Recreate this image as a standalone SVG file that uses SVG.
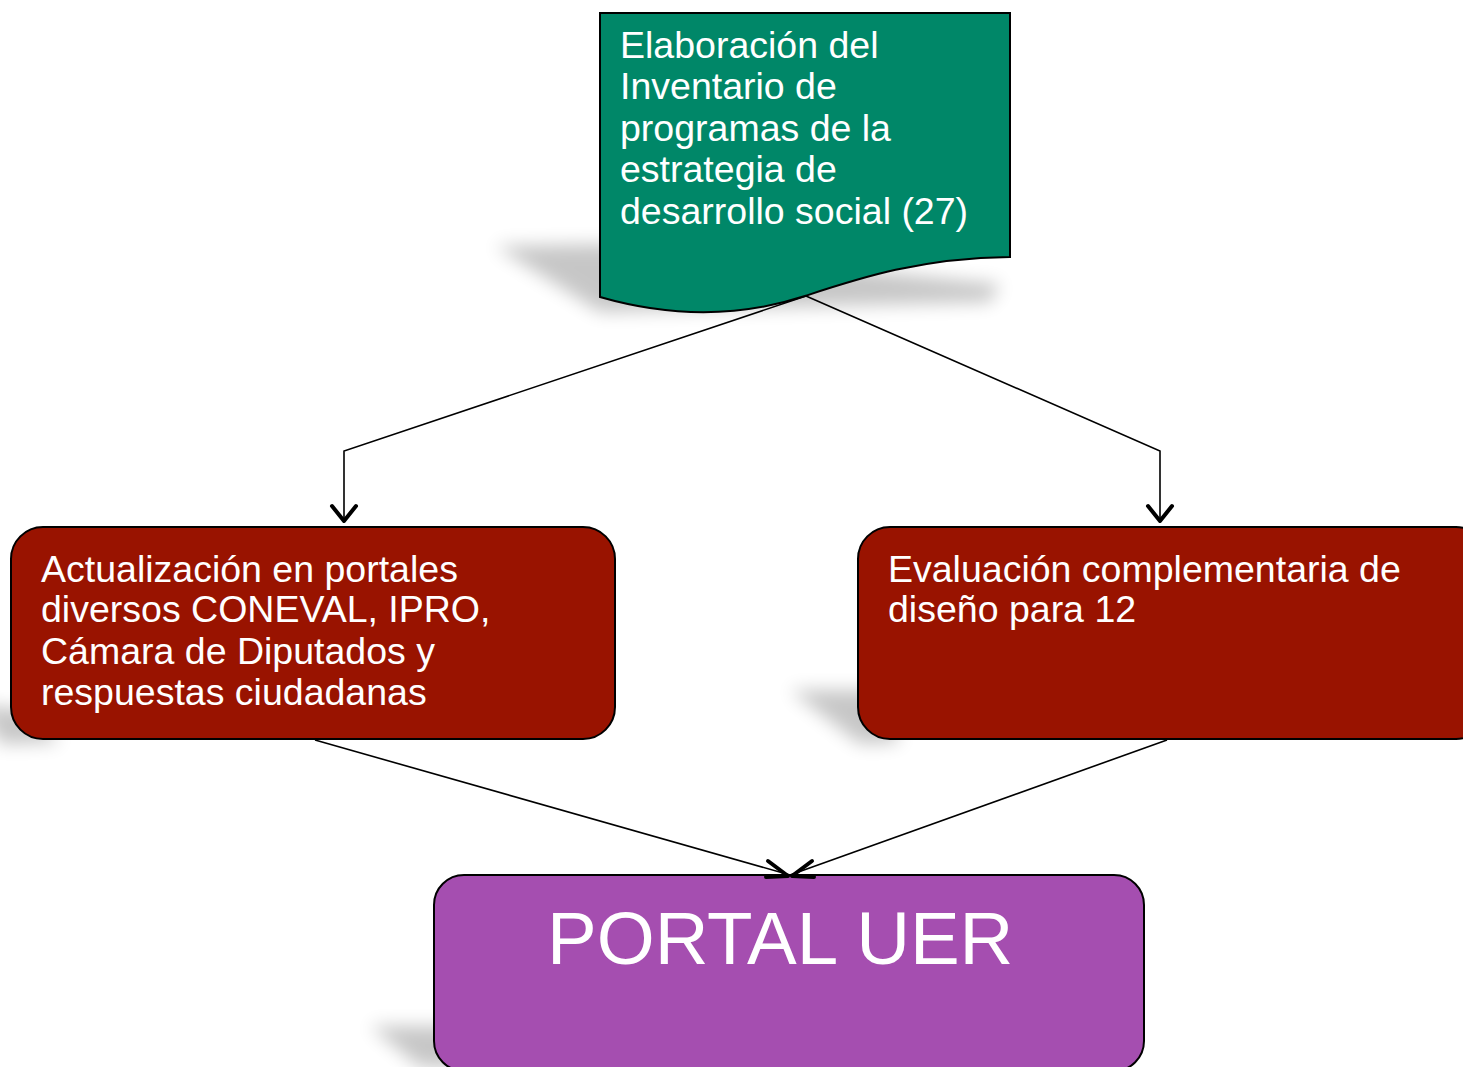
<svg xmlns="http://www.w3.org/2000/svg" width="1463" height="1067" viewBox="0 0 1463 1067">
<defs>
<filter id="blur" x="-30%" y="-60%" width="160%" height="220%"><feGaussianBlur stdDeviation="9"/></filter>
</defs>
<style>
.t{font-family:"Liberation Sans",Arial,sans-serif;fill:#fff;font-size:37.5px}
.c{fill:none;stroke:#000;stroke-width:1.6}
.h{fill:none;stroke:#000;stroke-width:4;stroke-linecap:round;stroke-linejoin:round}
.sh{fill:#000;opacity:0.22;filter:url(#blur)}
</style>
<rect width="1463" height="1067" fill="#fff"/>
<g id="shadows">
<polygon class="sh" points="495,246 600,244 1000,284 990,302 600,312"/>
<polygon class="sh" points="-20,705 30,710 60,742 0,744"/>
<polygon class="sh" points="790,690 880,690 900,742 860,744"/>
<polygon class="sh" points="370,1026 450,1026 470,1067 420,1067"/>
</g>
<g id="connectors">
<polyline class="c" points="806,296 344,451 344,520"/>
<polyline class="c" points="806,296 1160,451 1160,520"/>
<path class="h" d="M332,506 L344,521 L356,506"/>
<path class="h" d="M1148,506 L1160,521 L1172,506"/>
<line class="c" x1="315" y1="740" x2="790" y2="875"/>
<line class="c" x1="1167" y1="740" x2="790" y2="875"/>
</g>
<g id="n1">
<path d="M600,13 H1010 V257 C920,258 860,278 805,296 C750,314 680,320 600,297 Z" fill="#008768" stroke="#000" stroke-width="2"/>
<text class="t" x="620" y="58">Elaboración del</text>
<text class="t" x="620" y="99">Inventario de</text>
<text class="t" x="620" y="141">programas de la</text>
<text class="t" x="620" y="182">estrategia de</text>
<text class="t" x="620" y="224">desarrollo social (27)</text>
</g>
<g id="n2">
<rect x="11" y="527" width="604" height="212" rx="32" fill="#991300" stroke="#000" stroke-width="2"/>
<text class="t" x="41" y="582">Actualización en portales</text>
<text class="t" x="41" y="622">diversos CONEVAL, IPRO,</text>
<text class="t" x="41" y="664">Cámara de Diputados y</text>
<text class="t" x="41" y="705">respuestas ciudadanas</text>
</g>
<g id="n3">
<rect x="858" y="527" width="630" height="212" rx="32" fill="#991300" stroke="#000" stroke-width="2"/>
<text class="t" x="888" y="582">Evaluación complementaria de</text>
<text class="t" x="888" y="622">diseño para 12</text>
</g>
<g id="n4">
<rect x="434" y="875" width="710" height="196" rx="30" fill="#A54EB0" stroke="#000" stroke-width="2"/>
<text class="t" x="547" y="964" style="font-size:74.5px">PORTAL UER</text>
</g>
<g id="heads">
<path class="h" d="M768,861 L788,876 L766,877"/>
<path class="h" d="M812,861 L792,876 L814,877"/>
</g>
</svg>
